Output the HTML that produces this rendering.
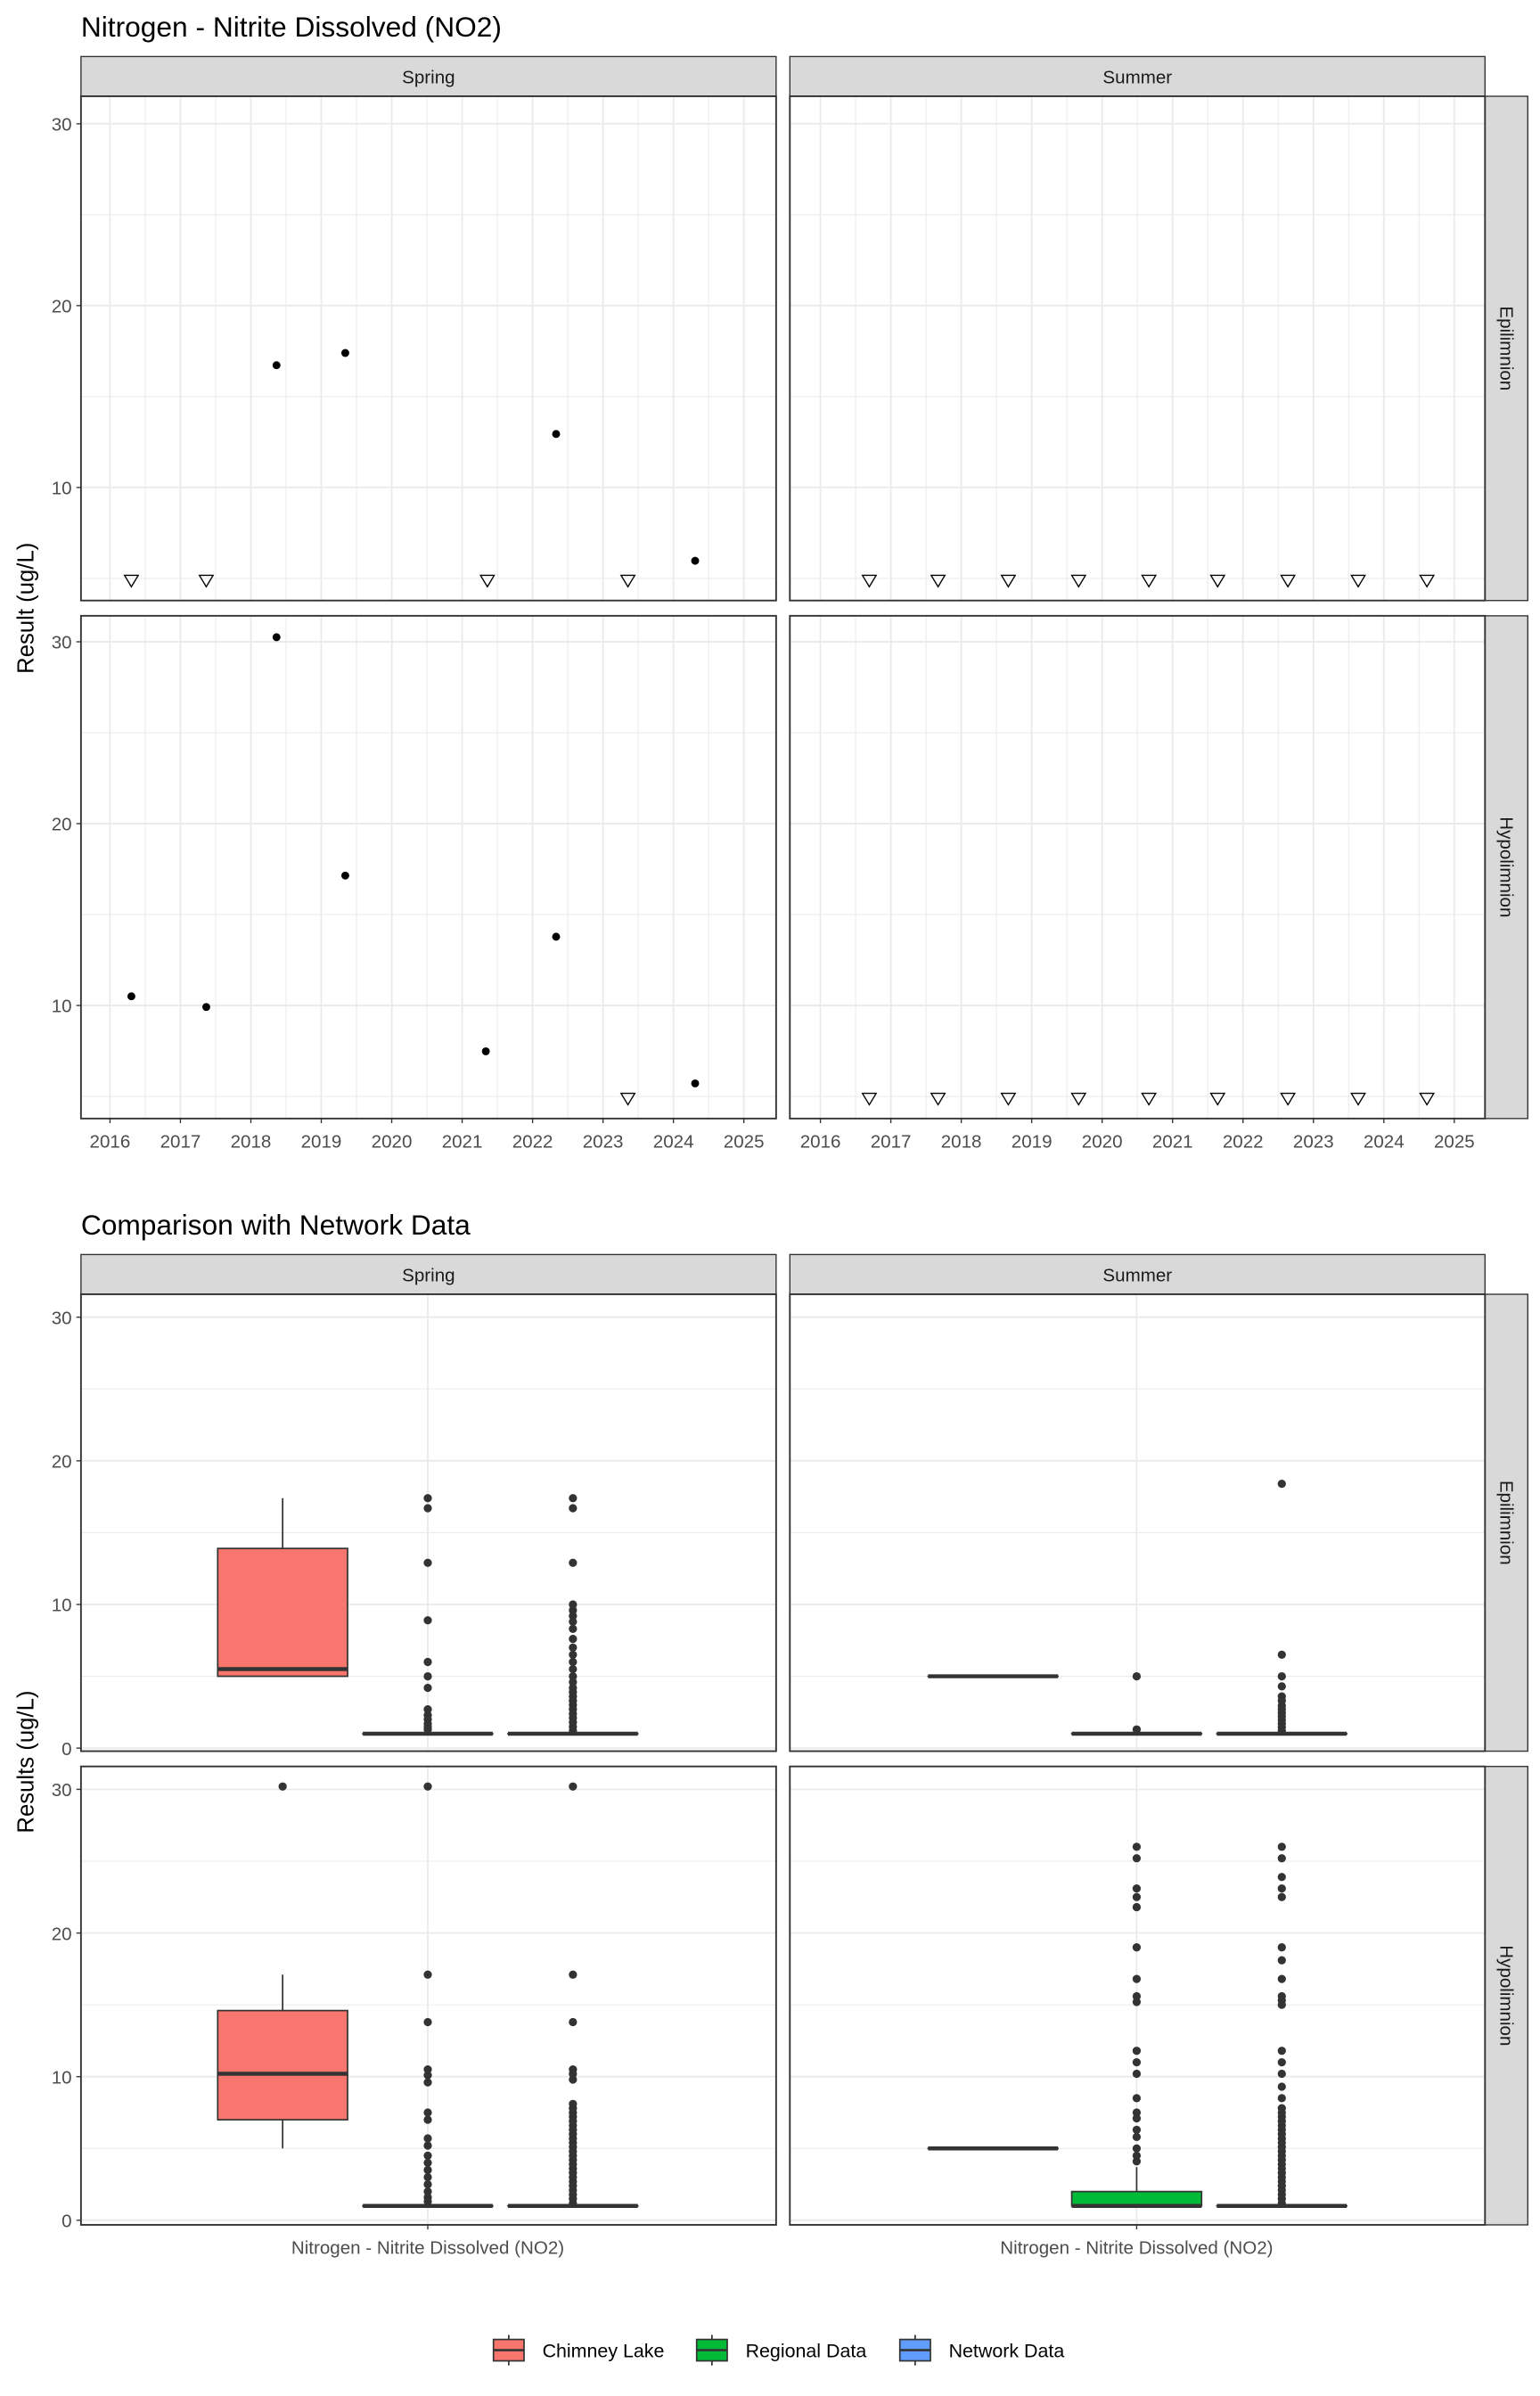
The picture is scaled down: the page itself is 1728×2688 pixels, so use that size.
<!DOCTYPE html>
<html><head><meta charset="utf-8"><style>
html,body{margin:0;padding:0;background:#fff}
svg{display:block}
text{font-family:"Liberation Sans",Arial,sans-serif}
</style></head><body>
<svg id="s" width="1728" height="2688" viewBox="0 0 1008 1568" xmlns="http://www.w3.org/2000/svg"></svg>
<script>
const s=document.getElementById('s');let h='';
const G='#EBEBEB';
function line(x1,y1,x2,y2,c,w){h+=`<line x1="${x1}" y1="${y1}" x2="${x2}" y2="${y2}" stroke="${c}" stroke-width="${w}"/>`;}
function rect(x,y,w,hh,f,st,sw){h+=`<rect x="${x}" y="${y}" width="${w}" height="${hh}" fill="${f}" stroke="${st||'none'}" stroke-width="${sw||0}"/>`;}
function txt(x,y,t,sz,anc,c,rot){h+=`<text x="${x}" y="${y}" font-size="${sz}" text-anchor="${anc||'start'}" fill="${c||'#000'}" ${rot?`transform="rotate(${rot} ${x} ${y})"`:''}>${t}</text>`;}
function strip(x,y,w,hh,t,rot){rect(x,y,w,hh,'#D9D9D9','#333',0.8);if(rot)txt(x+w/2-4,y+hh/2,t,12,'middle','#1a1a1a',90);else txt(x+w/2,y+hh/2+4.5,t,12,'middle','#1a1a1a');}
const cols=[[53,508],[517,972]];
txt(53,24,'Nitrogen - Nitrite Dissolved (NO2)',18.5);
const rows1=[[63,393,81],[403,732,420]];
function yv1(r,v){return rows1[r][2]+(30-v)*11.9;}
for(let c=0;c<2;c++){strip(cols[c][0],37,cols[c][1]-cols[c][0],26,c?'Summer':'Spring');}
for(let r=0;r<2;r++){
 const [t,b]=rows1[r];
 strip(972,t,28,b-t,r?'Hypolimnion':'Epilimnion',1);
 for(let c=0;c<2;c++){
  const [l,rr]=cols[c];const x0=c?537:72;
  rect(l,t,rr-l,b-t,'#fff');
  for(let v=5;v<=30;v+=5){const y=yv1(r,v);if(y>t&&y<b)line(l,y,rr,y,G,v%10?0.6:1.1);}
  for(let k=-0.5;k<=9.5;k+=0.5){const x=x0+k*46.1;if(x>l&&x<rr)line(x,t,x,b,G,k%1?0.6:1.1);}
  rect(l,t,rr-l,b-t,'none','#333',1.1);
  if(c==0)for(let v=10;v<=30;v+=10){const y=yv1(r,v);line(l-3,y,l,y,'#333',0.8);txt(l-6,y+4.5,v,12,'end','#4d4d4d');}
  if(r==1)for(let k=0;k<=9;k++){const x=x0+k*46.1;line(x,b,x,b+3,'#333',0.8);txt(x,b+19,2016+k,12,'middle','#4d4d4d');}
 }
}
function tri(x,y){h+=`<polygon points="${x-4.5},${y-3.5} ${x+4.5},${y-3.5} ${x},${y+4}" fill="none" stroke="#000" stroke-width="0.8"/>`;}
function dot(x,y,r,c){h+=`<circle cx="${x}" cy="${y}" r="${r||2.6}" fill="${c||'#000'}"/>`;}
[[181,239],[226,231],[364,284],[455,367]].forEach(p=>dot(...p));
[86,135,319,411].forEach(x=>tri(x,380));
[569,614,660,706,752,797,843,889,934].forEach(x=>{tri(x,380);tri(x,719);});
[[86,652],[135,659],[181,417],[226,573],[318,688],[364,613],[455,709]].forEach(p=>dot(...p));
tri(411,719);
txt(22,398,'Result (ug/L)',15,'middle','#000',-90);
txt(53,808,'Comparison with Network Data',18.5);
const rows2=[[847,1146,1144],[1156,1456,1453]];
function yv(r,v){return rows2[r][2]-v*9.4;}
for(let c=0;c<2;c++){strip(cols[c][0],821,cols[c][1]-cols[c][0],26,c?'Summer':'Spring');}
for(let r=0;r<2;r++){
 const [t,b]=rows2[r];
 strip(972,t,28,b-t,r?'Hypolimnion':'Epilimnion',1);
 for(let c=0;c<2;c++){
  const [l,rr]=cols[c];
  rect(l,t,rr-l,b-t,'#fff');
  for(let v=0;v<=30;v+=5){const y=yv(r,v);line(l,y,rr,y,G,v%10?0.6:1.1);}
  const xc=c?744:280;line(xc,t,xc,b,G,1.1);
  rect(l,t,rr-l,b-t,'none','#333',1.1);
  if(c==0)for(let v=0;v<=30;v+=10){const y=yv(r,v);line(l-3,y,l,y,'#333',0.8);txt(l-6,y+4.5,v,12,'end','#4d4d4d');}
  if(r==1){line(xc,b,xc,b+3,'#333',0.8);txt(xc,b+19,'Nitrogen - Nitrite Dissolved (NO2)',12,'middle','#4d4d4d');}
 }
}
const D='#333';
function box(r,xc,q1,med,q3,lo,hi,fill){
 const x=xc-42.5;
 if(hi>q3)line(xc,yv(r,hi),xc,yv(r,q3),D,1);
 if(lo<q1)line(xc,yv(r,lo),xc,yv(r,q1),D,1);
 rect(x,yv(r,q3),85,Math.max(yv(r,q1)-yv(r,q3),0.01),fill,D,1);
 line(x,yv(r,med),x+85,yv(r,med),D,2.6);
}
function outs(r,xc,vals){vals.forEach(v=>dot(xc,yv(r,v),2.7,D));}
function dense(a,b,st){const o=[];for(let v=a;v<=b;v+=st)o.push(v);return o;}
box(0,185,5,5.5,13.9,5,17.4,'#F8766D');
box(0,280,1,1,1,1,1,'#00BA38');outs(0,280,[17.4,16.7,12.9,8.9,6,5,4.2,2.7,2.3,2,1.7,1.5,1.3]);
box(0,375,1,1,1,1,1,'#619CFF');outs(0,375,[17.4,16.7,12.9,10,9.6,9.2,8.8,8.3,7.6,7,6.5,6,5.5,5,4.6].concat(dense(1.2,4.3,0.3)));
box(0,650,5,5,5,5,5,'#F8766D');
box(0,744,1,1,1,1,1,'#00BA38');outs(0,744,[5,1.3]);
box(0,839,1,1,1,1,1,'#619CFF');outs(0,839,[18.4,6.5,5,4.3,3.6,3.3].concat(dense(1.2,3,0.25)));
box(1,185,7,10.2,14.6,5,17.1,'#F8766D');outs(1,185,[30.2]);
box(1,280,1,1,1,1,1,'#00BA38');outs(1,280,[30.2,17.1,13.8,10.5,10.1,9.6,7.5,7,5.7,5.2,4.5,4,3.5,3,2.5,2,1.6,1.3]);
box(1,375,1,1,1,1,1,'#619CFF');outs(1,375,[30.2,17.1,13.8,10.5,10.2,9.8].concat(dense(1.2,8.3,0.3)));
box(1,650,5,5,5,5,5,'#F8766D');
box(1,744,1,1,2,1,3.7,'#00BA38');outs(1,744,[26,25.2,23.1,22.5,21.8,19,16.8,15.6,15.2,11.8,11,10.2,8.5,7.5,7.1,6.3,5.8,5,4.5,4.1]);
box(1,839,1,1,1,1,1,'#619CFF');outs(1,839,[26,25.2,23.9,23.1,22.5,19,18.1,16.8,15.6,15.3,15,11.8,11,10.2,9.3,8.5].concat(dense(1.2,7.8,0.3)));
txt(22,1153,'Results (ug/L)',15,'middle','#000',-90);
const lg=[[323,'#F8766D','Chimney Lake',355],[456,'#00BA38','Regional Data',488],[589,'#619CFF','Network Data',621]];
lg.forEach(([x,f,t,tx])=>{line(x+10,1528,x+10,1548,D,1);rect(x,1531,20,14,f,D,1);line(x,1538,x+20,1538,D,1.5);txt(tx,1542.5,t,12.5,'start','#000');});
s.innerHTML=h;
</script>
</body></html>
